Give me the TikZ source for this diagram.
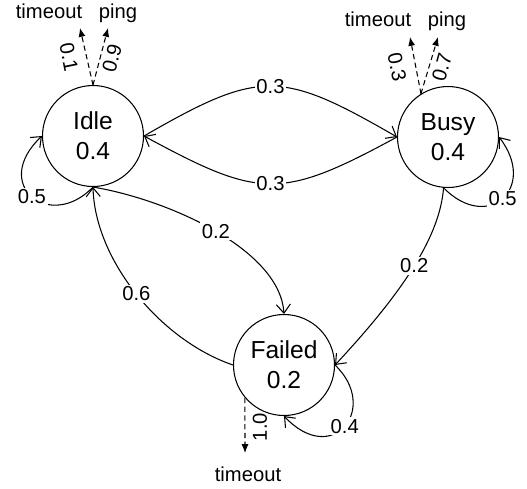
\documentclass[tikz,border=0pt]{standalone}
\usepackage{fontspec}
\setmainfont{Liberation Sans}
\usetikzlibrary{arrows.meta}
\begin{document}
\begin{tikzpicture}[x=0.02cm,y=-0.02cm,
  state/.style={circle, draw, line width=0.6pt, minimum size=2.02cm, inner sep=0pt, align=center, font=\fontsize{14}{17}\selectfont},
  lbl/.style={font=\fontsize{11.5}{13}\selectfont, inner sep=1pt},
  rlbl/.style={font=\fontsize{11.5}{13}\selectfont, inner sep=0pt},
  onl/.style={lbl, fill=white},
  edge/.style={line width=0.6pt, -{Straight Barb[length=5pt,width=8pt]}},
  dedge/.style={line width=0.6pt, dash pattern=on 3pt off 2pt, -{Latex[length=5pt,width=4pt]}},
]
\path[use as bounding box] (0,0) rectangle (527,488);

% states
\node[state] (idle) at (93,136) {Idle\\0.4};
\node[state] (busy) at (448,137) {Busy\\0.4};
\node[state] (failed) at (284,365) {Failed\\0.2};

% outputs
\node[lbl, anchor=base] (it) at (49,18) {timeout};
\node[lbl, anchor=base] (ip) at (118,18) {ping};
\node[lbl, anchor=base] (bt) at (378,26) {timeout};
\node[lbl, anchor=base] (bp) at (447,26) {ping};
\node[lbl, anchor=base] (ft) at (248,481) {timeout};

\coordinate (itip) at (80,28);
\coordinate (iptip) at (108,28);
\coordinate (btip) at (410,37);
\coordinate (bptip) at (438,37);
\coordinate (ftip) at (245,453);

\draw[dedge] (idle.north) -- (itip);
\draw[dedge] (idle.north) -- (iptip);
\draw[dedge] (busy.122) -- (btip);
\draw[dedge] (busy.122) -- (bptip);
\draw[dedge] (failed.-140) -- (ftip);

\node[rlbl, rotate=-78.7] (l1) at (69,57) {0.1};
\node[rlbl, rotate=75] (l2) at (112,58) {0.9};
\node[rlbl, rotate=-78.3] (l3) at (397,67) {0.3};
\node[rlbl, rotate=74.6] (l4) at (442,67) {0.7};
\node[rlbl, rotate=90] (l5) at (260,427) {1.0};

% transitions
\draw[edge] (idle.east) .. controls +(116,-67) and +(-116,-67) .. (busy.west) node[onl,pos=0.5] {0.3};
\draw[edge] (busy.west) .. controls +(-116,63) and +(116,63) .. (idle.east) node[onl,pos=0.5] {0.3};
\draw[edge] (idle.south) .. controls (50,232) and (-10,185) .. (idle.west) node[onl,pos=0.5] {0.5};
\draw[edge] (busy.-95) .. controls (488,233) and (538,188) .. (busy.east) node[onl,pos=0.5] {0.5};
\draw[edge] (failed.east) .. controls (380,408) and (333,468) .. (failed.south) node[onl,pos=0.5] {0.4};
\draw[edge] (idle.south) .. controls (170,200) and (280,250) .. (failed.north) node[onl,pos=0.5] {0.2};
\draw[edge] (failed.west) .. controls (160,340) and (95,260) .. (idle.south) node[onl,pos=0.5] {0.6};
\draw[edge] (busy.-95) .. controls (440,235) and (405,290) .. (failed.east) node[onl,pos=0.5] {0.2};
\end{tikzpicture}
\end{document}
